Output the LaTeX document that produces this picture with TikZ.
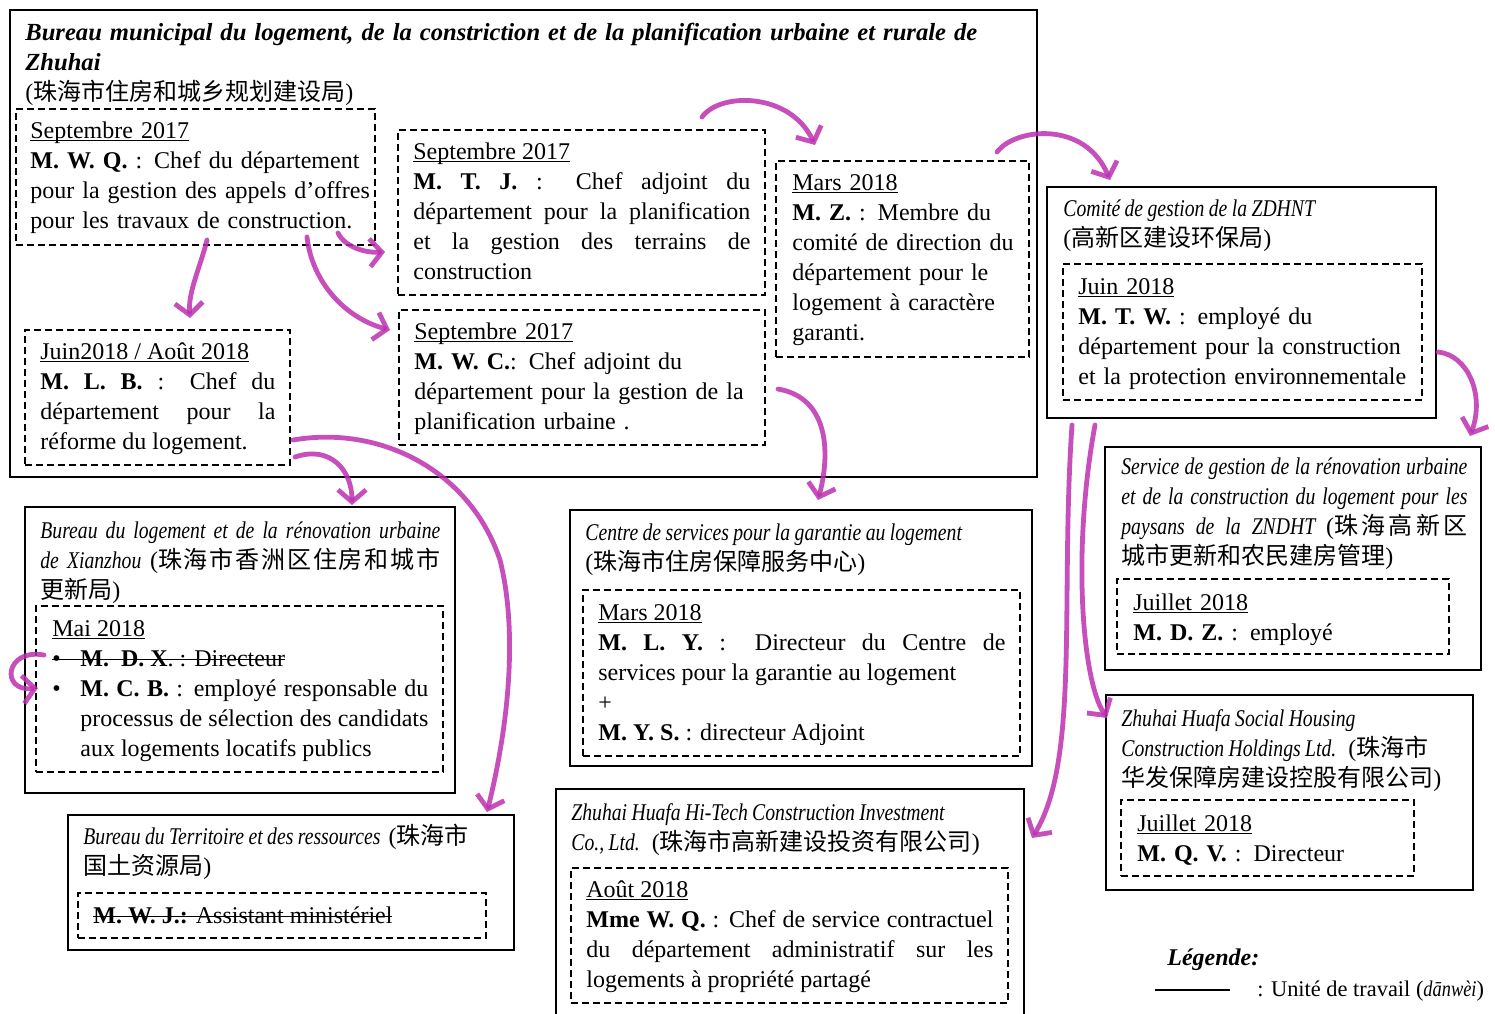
\documentclass[tikz,border=0pt]{standalone}
\usepackage{fontspec}
\setmainfont{Liberation Serif}[ItalicFeatures={FakeStretch=0.82}]
\newfontfamily\cjkfont{Noto Sans CJK SC}
\newcommand\zh[1]{{\cjkfont #1}}
\newcommand\itx[1]{{\itshape\spaceskip=2.2pt plus 2pt minus 0.6pt\relax #1}}
\newcommand\ulx[1]{\leavevmode\setbox0\hbox{#1}\rlap{\rule[-1.6pt]{\wd0}{0.5pt}}\box0}
\newcommand\stx[1]{\leavevmode\setbox0\hbox{#1}\rlap{\rule[3pt]{\wd0}{0.5pt}}\box0}
\usetikzlibrary{arrows.meta,fit}
\XeTeXlinebreaklocale "zh"
\XeTeXlinebreakskip=0pt plus 1pt
\definecolor{penc}{RGB}{188,48,176}
\tikzset{
  solidbox/.style={draw=black, line width=0.7pt, inner sep=0pt},
  dashbox/.style={draw=black, line width=0.7pt, dash pattern=on 3.5pt off 2pt, inner sep=0pt},
  txt/.style={anchor=base west, inner sep=0pt, font=\fontsize{12}{15}\selectfont, align=left},
  jtxt/.style={txt, align=justify},
  pen/.style={draw=penc, line width=2.4pt, line cap=round, opacity=0.85,
    -{Straight Barb[length=6pt,width=14pt]}},
}
\begin{document}
\begin{tikzpicture}[x=0.5pt,y=-0.5pt]
\useasboundingbox (0,0) rectangle (1495,1013);
\clip (0,0) rectangle (1495,1013);

% ---------- boxes ----------
\node[solidbox, fit={(10,10) (1037,477)}] (main) {};
\node[dashbox, fit={(16,109) (375,245)}] (A) {};
\node[dashbox, fit={(398,130) (765,295)}] (B) {};
\node[dashbox, fit={(776,161) (1029,357)}] (C) {};
\node[dashbox, fit={(25,330) (290,465)}] (D) {};
\node[dashbox, fit={(399,310) (765,445)}] (E) {};
\node[solidbox, fit={(1047,187) (1436,418)}] (F) {};
\node[dashbox, fit={(1063,264) (1422,400)}] (Fin) {};
\node[solidbox, fit={(25,507) (455,793)}] (G) {};
\node[dashbox, fit={(36,606) (443,772)}] (Gin) {};
\node[solidbox, fit={(68,815) (514,950)}] (H) {};
\node[dashbox, fit={(78,893) (486,938)}] (Hin) {};
\node[solidbox, fit={(570,510) (1032,766)}] (I) {};
\node[dashbox, fit={(583,590) (1020,756)}] (Iin) {};
\node[solidbox, fit={(556,789) (1024,1030)}] (J) {};
\node[dashbox, fit={(571,868) (1008,1003)}] (Jin) {};
\node[solidbox, fit={(1105,447) (1481,670)}] (K) {};
\node[dashbox, fit={(1117,579) (1449,654)}] (Kin) {};
\node[solidbox, fit={(1106,695) (1473,890)}] (L) {};
\node[dashbox, fit={(1121,800) (1414,876)}] (Lin) {};

% ---------- texts ----------
\node[txt, text width=520pt] (tMain) at (25,40)
 {{\fontsize{12.3}{15}\selectfont\textbf{\textit{Bureau municipal du logement, de la constriction et de la planification urbaine et rurale de}}}\\
  {\fontsize{12.3}{15}\selectfont\textbf{\textit{Zhuhai}}}\\
  (\zh{珠海市住房和城乡规划建设局})};

\node[txt, text width=175pt] (tA) at (30,138)
 {\ulx{Septembre 2017}\\
  \textbf{M. W. Q.} : Chef du département\\
  pour la gestion des appels d’offres\\
  pour les travaux de construction.};

\node[jtxt, text width=168.5pt] (tB) at (413,159)
 {\ulx{Septembre 2017}\\
  \textbf{M. T. J.} : Chef adjoint du\linebreak
  département pour la planification\linebreak
  et la gestion des terrains de\linebreak
  construction};

\node[txt, text width=118pt] (tC) at (792,190)
 {\ulx{Mars 2018}\\
  \textbf{M. Z.} : Membre du\\
  comité de direction du\\
  département pour le\\
  logement à caractère\\
  garanti.};

\node[jtxt, text width=117.5pt] (tD) at (40,359)
 {\ulx{Juin2018 / Août 2018}\\
  \textbf{M. L. B.} : Chef du\linebreak
  département pour la\linebreak
  réforme du logement.};

\node[txt, text width=175pt] (tE) at (414,339)
 {\ulx{Septembre 2017}\\
  \textbf{M. W. C.}: Chef adjoint du\\
  département pour la gestion de la\\
  planification urbaine .};

\node[txt, text width=185pt] (tF1) at (1063,216)
 {\itx{Comité de gestion de la ZDHNT}\\
  (\zh{高新区建设环保局})};
\node[txt, text width=170pt] (tF2) at (1078,294)
 {\ulx{Juin 2018}\\
  \textbf{M. T. W.} : employé du\\
  département pour la construction\\
  et la protection environnementale};

\node[jtxt, text width=200pt] (tG1) at (40,538)
 {\itx{Bureau du logement et de la rénovation urbaine}\linebreak
  \itx{de Xianzhou} (\zh{珠海市香洲区住房和城市}\linebreak
  \zh{更新局})};
\node[txt] (tGm) at (52,636) {\ulx{Mai 2018}};
\node[txt] (tGdx) at (52,666) {\stx{\hbox to 14pt{•\hfil}\textbf{M.\ \ D. X}. : Directeur}};
\node[txt] (tGb) at (52,696) {•};
\node[jtxt, text width=174pt] (tGcb) at (80,696)
 {\textbf{M. C. B.} : employé responsable du\linebreak
  processus de sélection des candidats\linebreak
  aux logements locatifs publics};

\node[txt, text width=215pt] (tH1) at (83,844)
 {\itx{Bureau du Territoire et des ressources} (\zh{珠海市}\\
  \zh{国土资源局})};
\node[txt] (tH2) at (93,923) {\stx{\textbf{M. W. J.:} Assistant ministériel}};

\node[txt, text width=222pt] (tI1) at (585,540)
 {\itx{Centre de services pour la garantie au logement}\\
  (\zh{珠海市住房保障服务中心})};
\node[jtxt, text width=203.5pt] (tI2) at (598,620)
 {\ulx{Mars 2018}\\
  \textbf{M. L. Y.} : Directeur du Centre de\linebreak
  services pour la garantie au logement\\
  +\\
  \textbf{M. Y. S.} : directeur Adjoint};

\node[txt, text width=225pt] (tJ1) at (571,820)
 {\itx{Zhuhai Huafa Hi-Tech Construction Investment}\\
  \itx{Co., Ltd.} (\zh{珠海市高新建设投资有限公司})};
\node[jtxt, text width=203.5pt] (tJ2) at (586,897)
 {\ulx{Août 2018}\\
  \textbf{Mme W. Q.} : Chef de service contractuel\linebreak
  du département administratif sur les\linebreak
  logements à propriété partagé};

\node[jtxt, text width=173pt] (tK1) at (1121,474)
 {\itx{Service de gestion de la rénovation urbaine}\linebreak
  \itx{et de la construction du logement pour les}\linebreak
  \itx{paysans de la ZNDHT} (\zh{珠海高新区}\linebreak
  \zh{城市更新和农民建房管理})};
\node[txt, text width=150pt] (tK2) at (1133,610)
 {\ulx{Juillet 2018}\\
  \textbf{M. D. Z.} : employé};

\node[txt, text width=178pt] (tL1) at (1121,726)
 {\itx{Zhuhai Huafa Social Housing}\\
  \itx{Construction Holdings Ltd.} (\zh{珠海市}\\
  \zh{华发保障房建设控股有限公司})};
\node[txt, text width=130pt] (tL2) at (1137,831)
 {\ulx{Juillet 2018}\\
  \textbf{M. Q. V.} : Directeur};

% ---------- legend ----------
\node[txt] (legT) at (1167,965) {\textbf{\textit{Légende:}}};
\coordinate (lg1) at (1155,990);
\coordinate (lg2) at (1230,990);
\draw[line width=0.6pt] (lg1) -- (lg2);
\node[txt, font=\fontsize{11.2}{14}\selectfont] (legU) at (1257,996) {: Unité de travail (\textit{dānwèi})};

% ---------- arrows ----------
\coordinate (a1s) at (207,240);  \coordinate (a1e) at (190,318);
\coordinate (a2s) at (338,233);  \coordinate (a2e) at (385,252);
\coordinate (a3s) at (307,237);  \coordinate (a3e) at (390,330);
\coordinate (a4s) at (702,117);  \coordinate (a4e) at (815,145);
\coordinate (a5s) at (997,152);  \coordinate (a5e) at (1110,180);
\coordinate (a6s) at (1438,352); \coordinate (a6e) at (1470,436);
\coordinate (a7s) at (1072,425); \coordinate (a7e) at (1032,838);
\coordinate (a8s) at (1095,425); \coordinate (a8e) at (1107,718);
\coordinate (a9s) at (778,389);  \coordinate (a9e) at (818,500);
\coordinate (a10s) at (295,457); \coordinate (a10e) at (352,505);
\coordinate (a11s) at (293,440); \coordinate (a11m) at (500,560); \coordinate (a11e) at (487,812);
\coordinate (a12s) at (44,655);  \coordinate (a12e) at (38,688);

\draw[pen] (a1s) .. controls (200,268) and (188,292) .. (a1e);
\draw[pen] (a2s) .. controls (345,247) and (365,253) .. (a2e);
\draw[pen] (a3s) .. controls (312,282) and (345,318) .. (a3e);
\draw[pen] (a4s) .. controls (720,92) and (790,92) .. (a4e);
\draw[pen] (a5s) .. controls (1015,128) and (1085,120) .. (a5e);
\draw[pen] (a6s) .. controls (1468,355) and (1485,395) .. (a6e);
\draw[pen] (a7s) .. controls (1060,600) and (1080,760) .. (a7e);
\draw[pen] (a8s) .. controls (1072,550) and (1082,680) .. (a8e);
\draw[pen] (a9s) .. controls (830,398) and (830,455) .. (a9e);
\draw[pen] (a10s) .. controls (330,445) and (352,470) .. (a10e);
\draw[pen] (a11s) .. controls (380,425) and (470,470) .. (a11m)
                  .. controls (520,640) and (505,740) .. (a11e);
\draw[pen] (a12s) .. controls (5,648) and (0,692) .. (a12e);
\end{tikzpicture}
\end{document}
